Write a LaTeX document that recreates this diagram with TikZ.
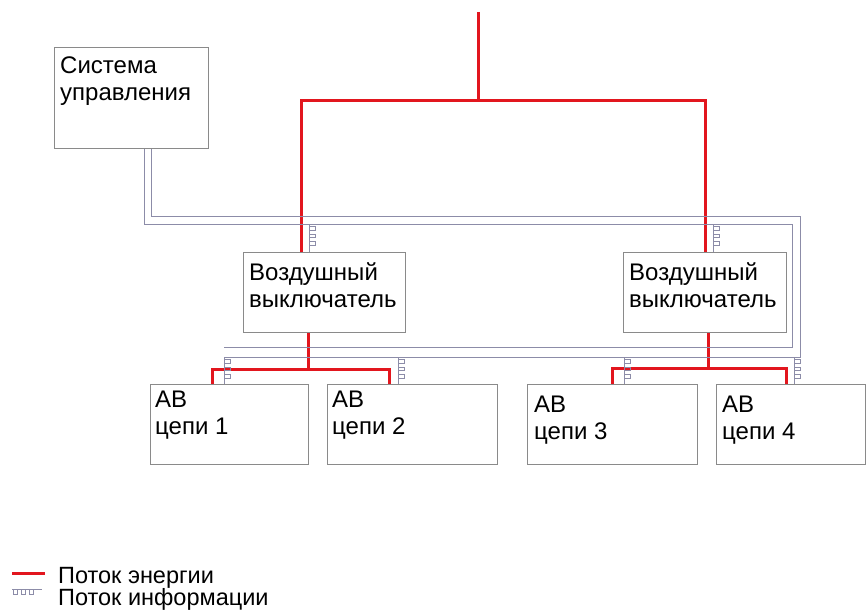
\documentclass[tikz,border=0pt]{standalone}
\usepackage{fontspec}
\setmainfont{Liberation Sans}
\usetikzlibrary{calc}
\definecolor{energyred}{RGB}{226,22,30}
\definecolor{infogray}{RGB}{140,140,168}
\definecolor{boxgray}{RGB}{138,138,138}
\begin{document}
\begin{tikzpicture}[x=1pt,y=-1pt,
  box/.style={draw=boxgray, line width=1.1pt, fill=white, anchor=north west,
              inner sep=0pt, minimum height=80pt},
  lbl/.style={anchor=north west, inner sep=0pt, align=left,
              font=\fontsize{24}{27}\selectfont},
  energy/.style={draw=energyred, line width=3pt, line join=miter},
  info/.style={draw=infogray, line width=1pt},
  infotap/.pic={
    \draw[info] (0,0) -- ++(6,0) -- ++(0,3.8) -- ++(-6,0) -- ++(0,3.8)
      -- ++(6,0) -- ++(0,3.8) -- ++(-6,0) -- ++(0,3.8)
      -- ++(6,0) -- ++(0,3.8) -- ++(-6,0);
  }]
\useasboundingbox (0,0) rectangle (866,610);

% control system and breakers
\node[box, minimum width=154pt, minimum height=101pt] (ctrl) at (54,47) {};
\node[lbl] (ctrltxt) at (60,57) {Система\\управления};

\node[box, minimum width=162pt] (brk1) at (243,252) {};
\node[lbl] (brk1txt) at (249,262) {Воздушный\\выключатель};
\node[box, minimum width=163pt] (brk2) at (623,252) {};
\node[lbl] (brk2txt) at (629,262) {Воздушный\\выключатель};

% circuit breakers of the feeders
\node[box, minimum width=158pt] (cb1) at (150,384) {};
\node[lbl] (cb1txt) at (155,391) {AB\\цепи 1};
\node[box, minimum width=170pt] (cb2) at (327,384) {};
\node[lbl] (cb2txt) at (332,391) {AB\\цепи 2};
\node[box, minimum width=170pt] (cb3) at (527,384) {};
\node[lbl] (cb3txt) at (534,396) {AB\\цепи 3};
\node[box, minimum width=149pt] (cb4) at (716,384) {};
\node[lbl] (cb4txt) at (722,396) {AB\\цепи 4};

% energy flow
\coordinate (src) at (478,12);
\coordinate (hub) at (478,100);
\coordinate (b1in) at ($(brk1.north west)+(58,0)$);
\coordinate (b2in) at ($(brk2.north west)+(82,0)$);
\coordinate (b1out) at ($(brk1.south west)+(65,0)$);
\coordinate (b2out) at ($(brk2.south west)+(85,0)$);
\coordinate (j1) at (b1out |- 0,369);
\coordinate (j2) at (b2out |- 0,368);
\coordinate (c1in) at ($(cb1.north west)+(62,0)$);
\coordinate (c2in) at ($(cb2.north west)+(62,0)$);
\coordinate (c3in) at ($(cb3.north west)+(85,0)$);
\coordinate (c4in) at ($(cb4.north west)+(70,0)$);

\draw[energy] (src) -- (hub);
\draw[energy] (b1in) |- (hub) -| (b2in);
\draw[energy] (b1out) -- (j1);
\draw[energy] (c1in) |- (j1) -| (c2in);
\draw[energy] (b2out) -- (j2);
\draw[energy] (c3in) |- (j2) -| (c4in);

% information bus (two-wire)
\coordinate (busA) at ($(ctrl.south west)+(90,0)$);
\coordinate (busB) at ($(ctrl.south west)+(97,0)$);
\draw[info] (busA) |- (792,224) |- (224,347);
\draw[info] (busB) |- (800,216) |- (224,357);

% information taps
\coordinate (t1) at ($(brk1.north west)+(66,0)$);
\coordinate (t2) at ($(brk2.north west)+(90,0)$);
\coordinate (u1) at ($(cb1.north west)+(74,0)$);
\coordinate (u2) at ($(cb2.north west)+(71,0)$);
\coordinate (u3) at ($(cb3.north west)+(97,0)$);
\coordinate (u4) at ($(cb4.north west)+(78,0)$);
\foreach \t in {t1,t2} {
  \draw[info] (\t) -- (\t |- 0,224);
  \pic at ($(\t |- 0,224)+(0,2.5)$) {infotap};
}
\foreach \t in {u1,u2,u3,u4} {
  \draw[info] (\t) -- (\t |- 0,357);
  \pic at ($(\t |- 0,357)+(0,2.5)$) {infotap};
}

% legend
\coordinate (legA) at (12,573);
\coordinate (legB) at (45,573);
\draw[energy] (legA) -- (legB);
\node[anchor=base west, inner sep=0pt, font=\fontsize{23.5}{22}\selectfont] (legE) at (58,583) {Поток энергии};
\coordinate (legC) at (12,589);
\coordinate (legD) at (42,589);
\draw[info] (legC) -- (legD);
\draw[info] (13,589) -- ++(0,5) -- ++(4,0) -- ++(0,-5) -- ++(4,0) -- ++(0,5) -- ++(4,0) -- ++(0,-5) -- ++(4,0) -- ++(0,5) -- ++(4,0) -- ++(0,-5);
\node[anchor=base west, inner sep=0pt, font=\fontsize{23.5}{22}\selectfont] (legI) at (58,605) {Поток информации};
\end{tikzpicture}
\end{document}
